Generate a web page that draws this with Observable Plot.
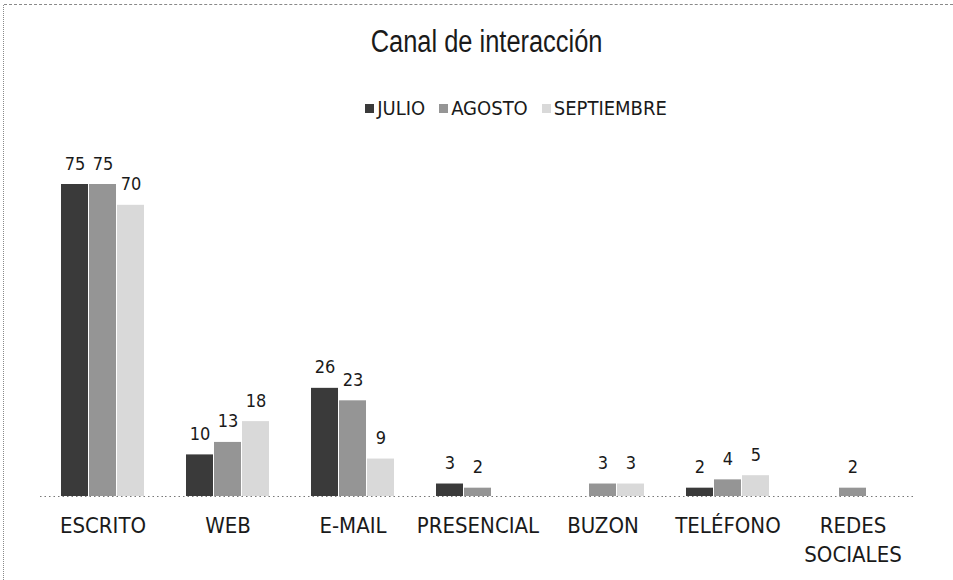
<!DOCTYPE html>
<html>
<head>
<meta charset="utf-8">
<script src="https://cdn.jsdelivr.net/npm/d3@7"></script>
<script src="https://cdn.jsdelivr.net/npm/@observablehq/plot@0.6"></script>
<style>
  html, body { margin: 0; padding: 0; background: #fff; }
  #wrap { position: relative; width: 953px; height: 580px; overflow: hidden;
          font-family: "Liberation Sans Narrow", "Arial Narrow", "DejaVu Sans Condensed", sans-serif; color: #1a1a1a; }
  #frameTop { position: absolute; left: 4px; top: 4px; width: 949px; border-top: 1px dashed #8a8a8a; }
  #frameLeft { position: absolute; left: 3px; top: 5px; height: 575px; border-left: 1px dotted #8a8a8a; }
  #title { position: absolute; left: 0; top: 24px; width: 973px; text-align: center; font-size: 31px; line-height: 36px;
           font-family: "Liberation Sans", Arial, sans-serif; transform: scaleX(0.82); transform-origin: 487px 0; }
  #legend { position: absolute; left: 0; top: 96px; width: 1032px; display: flex; justify-content: center; gap: 14px; font-size: 20px; line-height: 24px; }
  .item { display: flex; align-items: center; }
  .sw { width: 9px; height: 9px; margin-right: 3px; display: inline-block; }
  #chart { position: absolute; left: 0; top: 135px; }
</style>
</head>
<body>
<div id="wrap">
  <div id="frameTop"></div>
  <div id="frameLeft"></div>
  <div id="title">Canal de interacción</div>
  <div id="legend"></div>
  <div id="chart"></div>
</div>
<script>
const categories = ["ESCRITO", "WEB", "E-MAIL", "PRESENCIAL", "BUZON", "TELÉFONO", "REDES SOCIALES"];
const series = ["JULIO", "AGOSTO", "SEPTIEMBRE"];
const julio = [75, 10, 26, 3, 0, 2, 0];
const agosto = [75, 13, 23, 2, 3, 4, 2];
const septiembre = [70, 18, 9, 0, 3, 5, 0];
const colors = ["#3a3a3a", "#959595", "#d9d9d9"];

const values = [julio, agosto, septiembre];
const data = [];
categories.forEach((c, i) => {
  series.forEach((s, j) => data.push({category: c, series: s, value: values[j][i]}));
});
const shown = data.filter(d => d.value > 0);

const legend = document.getElementById("legend");
series.forEach((s, j) => {
  const it = document.createElement("div");
  it.className = "item";
  const sw = document.createElement("span");
  sw.className = "sw";
  sw.style.background = colors[j];
  it.appendChild(sw);
  it.appendChild(document.createTextNode(s));
  legend.appendChild(it);
});

const font = '"Liberation Sans Narrow", "Arial Narrow", "DejaVu Sans Condensed", sans-serif';
const chart = Plot.plot({
  width: 953,
  height: 445,
  marginLeft: 40,
  marginRight: 38,
  marginTop: 49,
  marginBottom: 84,
  style: {fontFamily: font, fontSize: "22px", color: "#1a1a1a", background: "transparent"},
  fx: {domain: categories, paddingInner: 0.32, paddingOuter: 0.16, label: null, axis: null},
  x: {domain: series, paddingInner: 0.04, paddingOuter: 0, axis: null},
  y: {domain: [0, 75], axis: null},
  color: {domain: series, range: colors},
  marks: [
    Plot.ruleY([0], {stroke: "#777", strokeDasharray: "1.5,3", insetLeft: -20, insetRight: -20}),
    Plot.barY(shown, {fx: "category", x: "series", y: "value", fill: "series"}),
    Plot.text(shown, {fx: "category", x: "series", y: "value", text: d => String(d.value),
      lineAnchor: "bottom", dy: -15, fontSize: 18, fill: "#1a1a1a"}),
    Plot.axisFx({anchor: "bottom", tickSize: 0, tickPadding: 15, fontSize: 22, lineHeight: 1.35,
      label: null, tickFormat: d => d === "REDES SOCIALES" ? "REDES\nSOCIALES" : d})
  ]
});
document.getElementById("chart").appendChild(chart);
</script>
</body>
</html>
